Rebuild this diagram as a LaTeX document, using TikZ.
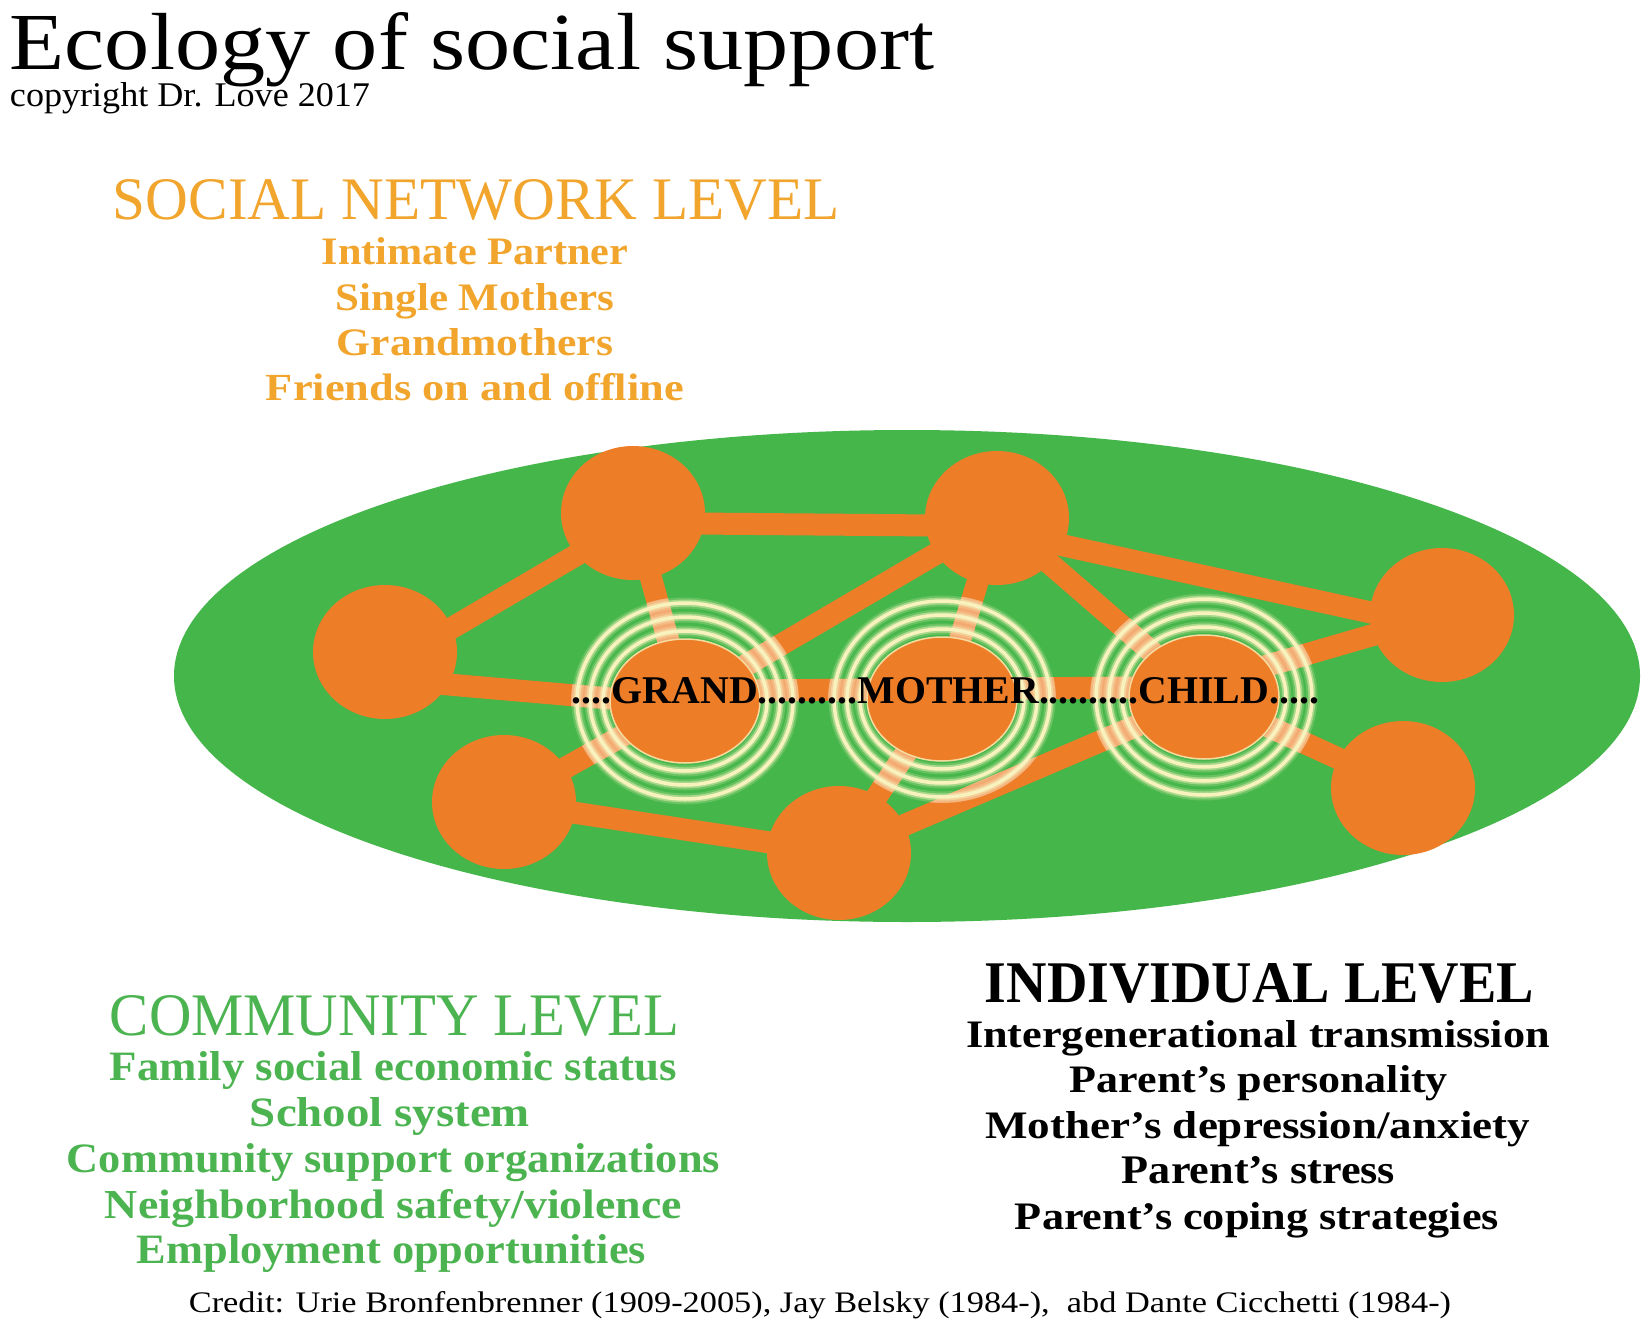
\documentclass[tikz,border=0pt]{standalone}
\usepackage{fontspec}
\setmainfont{Liberation Serif}
\usetikzlibrary{shapes.geometric}
\definecolor{bggreen}{HTML}{45B64A}
\definecolor{nodeorange}{HTML}{EE7D27}
\definecolor{txtorange}{HTML}{F2A52C}
\definecolor{txtgreen}{HTML}{4BB450}
\definecolor{ringcream}{HTML}{F8F3BE}
\newcommand{\fitbox}[3]{\resizebox{#1pt}{#2pt}{#3}}
\pgfdeclarelayer{back}\pgfdeclarelayer{links}\pgfdeclarelayer{rings}
\pgfsetlayers{back,links,rings,main}
\begin{document}
\begin{tikzpicture}[x=1pt,y=-1pt,
  txt/.style={anchor=base,inner sep=0pt,outer sep=0pt},
  blob/.style={ellipse,fill=nodeorange,inner sep=0pt,outer sep=0pt,minimum width=144pt,minimum height=134pt},
  core/.style={ellipse,fill=nodeorange,draw=ringcream!80!nodeorange,line width=1.5pt,inner sep=0pt,outer sep=0pt,minimum width=150pt,minimum height=124pt},
  link/.style={draw=nodeorange,line width=22pt},
  fade/.style={draw=white,line width=22pt,opacity=0.35},
]
\useasboundingbox (0,0) rectangle (1648,1332);

\begin{pgfonlayer}{back}
\fill[white] (0,0) rectangle (1648,1332);
\fill[bggreen] (907,676) ellipse [x radius=733pt, y radius=246pt];
\end{pgfonlayer}

% nodes
\node[blob] (tl) at (633,513) {};
\node[blob] (tm) at (997,518) {};
\node[blob] (lf) at (385,652) {};
\node[blob] (rt) at (1442,615) {};
\node[blob] (bl) at (504,802) {};
\node[blob] (bm) at (839,853) {};
\node[blob] (br) at (1403,788) {};
\node[core] (gr) at (685,701) {};
\node[core] (mo) at (942,699) {};
\node[core] (ch) at (1204,697) {};

\def\linklist{lf/-15/tl/-9, tl/-10/tm/-8, tl/0/gr/0, tm/0/gr/0, tm/0/mo/0, tm/0/ch/0, tm/-13/rt/-13, lf/-27/gr/-4, gr/10/mo/10, mo/10/ch/10, ch/13/rt/0, ch/0/br/0, gr/0/bl/0, bl/0/bm/0, bm/0/mo/0, bm/0/ch/0}

\begin{pgfonlayer}{links}
\foreach \a/\sa/\b/\sb in \linklist
  \draw[link] ([yshift=\sa pt]\a.center) -- ([yshift=\sb pt]\b.center);
\end{pgfonlayer}

\begin{pgfonlayer}{rings}
\begin{scope}[even odd rule]
\clip (gr.center) ellipse [x radius=114pt,y radius=104pt] (gr.center) ellipse [x radius=75pt,y radius=62pt]
      (mo.center) ellipse [x radius=114pt,y radius=104pt] (mo.center) ellipse [x radius=75pt,y radius=62pt]
      (ch.center) ellipse [x radius=114pt,y radius=104pt] (ch.center) ellipse [x radius=75pt,y radius=62pt];
\foreach \a/\sa/\b/\sb in \linklist
  \draw[fade] ([yshift=\sa pt]\a.center) -- ([yshift=\sb pt]\b.center);
\end{scope}
\foreach \n in {gr,mo,ch}{
  \foreach \rx/\ry in {82/70,95/84,108/98}{
    \draw[ringcream,line width=11pt,opacity=0.2] (\n.center) ellipse [x radius=\rx pt,y radius=\ry pt];
    \draw[ringcream,line width=7pt,opacity=0.45] (\n.center) ellipse [x radius=\rx pt,y radius=\ry pt];
    \draw[ringcream,line width=3.5pt] (\n.center) ellipse [x radius=\rx pt,y radius=\ry pt];
  }
}
\end{pgfonlayer}

% texts
\node[txt] (title) at (472,70) {\fitbox{924}{57}{Ecology of social support}};
\node[txt] (copy) at (190,107) {\fitbox{360}{24}{copyright Dr. Love 2017}};

\node[txt,text=txtorange] (snl) at (476.5,220) {\fitbox{727}{40}{SOCIAL NETWORK LEVEL}};
\node[txt,text=txtorange] (s1) at (475,265) {\fitbox{306}{27}{\bfseries Intimate Partner}};
\node[txt,text=txtorange] (s2) at (475,310) {\fitbox{278}{27}{\bfseries Single Mothers}};
\node[txt,text=txtorange] (s3) at (475,355) {\fitbox{276}{27}{\bfseries Grandmothers}};
\node[txt,text=txtorange] (s4) at (475,400) {\fitbox{418}{27}{\bfseries Friends on and offline}};

\node[txt] (gmc) at (945.5,703) {\fitbox{747}{26}{\bfseries ....GRAND..........MOTHER..........CHILD.....}};

\node[txt,text=txtgreen] (cl) at (394.5,1035) {\fitbox{569}{40}{COMMUNITY LEVEL}};
\node[txt,text=txtgreen] (c1) at (393.5,1080) {\fitbox{567}{29}{\bfseries Family social economic status}};
\node[txt,text=txtgreen] (c2) at (390,1126) {\fitbox{280}{29}{\bfseries School system}};
\node[txt,text=txtgreen] (c3) at (393.5,1172) {\fitbox{653}{29}{\bfseries Community support organizations}};
\node[txt,text=txtgreen] (c4) at (393.5,1218) {\fitbox{577}{29}{\bfseries Neighborhood safety/violence}};
\node[txt,text=txtgreen] (c5) at (391.5,1263) {\fitbox{509}{29}{\bfseries Employment opportunities}};

\node[txt] (il) at (1259.5,1002) {\fitbox{549}{39}{\bfseries INDIVIDUAL LEVEL}};
\node[txt] (i1) at (1258,1047) {\fitbox{584}{27}{\bfseries Intergenerational transmission}};
\node[txt] (i2) at (1259,1092) {\fitbox{378}{27}{\bfseries Parent’s personality}};
\node[txt] (i3) at (1257.5,1138) {\fitbox{545}{27}{\bfseries Mother’s depression/anxiety}};
\node[txt] (i4) at (1258.5,1183) {\fitbox{273}{27}{\bfseries Parent’s stress}};
\node[txt] (i5) at (1257,1229) {\fitbox{484}{27}{\bfseries Parent’s coping strategies}};

\node[txt] (credit) at (820,1312) {\fitbox{1262}{21}{Credit: Urie Bronfenbrenner (1909-2005), Jay Belsky (1984-),\ \ abd Dante Cicchetti (1984-)}};
\end{tikzpicture}
\end{document}
